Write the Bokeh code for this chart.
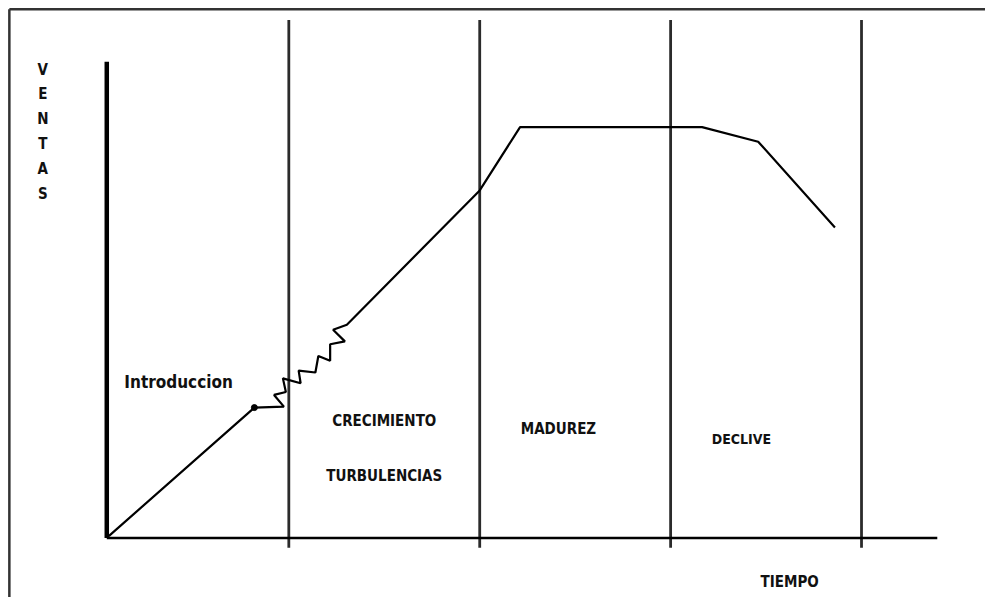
from bokeh.plotting import figure
from bokeh.models import Range1d, ColumnDataSource
from bokeh.core.properties import value
from bokeh.embed import file_html
from bokeh.resources import INLINE

# ---- data (tiempo / ventas in drawing units) ----
tiempo = [2, 150, 180, 170, 182, 179, 197, 195, 212, 215, 227, 227, 242, 230, 244, 379, 420, 605, 662, 740]
ventas = [2, 134, 135, 147, 150, 164, 159, 172, 170, 187, 182, 199, 202, 214, 219, 357, 422, 422, 407, 319]
punto_t = [150]
punto_v = [134]
limites_etapas = [185, 379, 573, 767]
etapas = ["Introduccion", "CRECIMIENTO", "TURBULENCIAS", "MADUREZ", "DECLIVE"]
eje_y = "VENTAS"
eje_x = "TIEMPO"

# ---- layout positions / sizes (drawing units) ----
etapa_x = [73, 282, 282, 459, 645]
etapa_y = [160, 120, 64, 112, 102]
etapa_size = ["17px", "15px", "15px", "15px", "14px"]
eje_y_x = -65
eje_y_top = 481
eje_y_step = 25.5
eje_x_pos = (694, -45)

FONT = value("DejaVu Sans Condensed")

p = figure(width=985, height=597, output_backend="svg", toolbar_location=None,
           x_range=Range1d(-108, 893), y_range=Range1d(-61, 552),
           min_border=0, background_fill_color="white", border_fill_color="white")
p.axis.visible = False
p.grid.visible = False
p.outline_line_color = None

# outer frame (left and top edges only visible in the reference)
p.segment(x0=[-99, -99], y0=[-70, 543], x1=[-99, 900], y1=[543, 543],
          line_color="#333333", line_width=2.5)

# stage dividers
n = len(limites_etapas)
p.segment(x0=limites_etapas, y0=[532] * n, x1=limites_etapas, y1=[-10] * n,
          line_color="#2b2b2b", line_width=2.8)

# axes
p.segment(x0=[0], y0=[0], x1=[0], y1=[489], line_color="black", line_width=4.5)
p.segment(x0=[0], y0=[0], x1=[844], y1=[0], line_color="black", line_width=2.5)

# sales curve
p.line(tiempo, ventas, line_color="black", line_width=2.2)
p.scatter(punto_t, punto_v, size=6, color="black")

# texts
src = ColumnDataSource(dict(x=etapa_x, y=etapa_y, t=etapas, s=etapa_size))
p.text(x="x", y="y", text="t", source=src, text_font=FONT, text_font_style="bold",
       text_font_size="s", text_align="center", text_baseline="middle",
       text_color="#111111")

letras = list(eje_y)
src2 = ColumnDataSource(dict(x=[eje_y_x] * len(letras),
                             y=[eje_y_top - i * eje_y_step for i in range(len(letras))],
                             t=letras))
p.text(x="x", y="y", text="t", source=src2, text_font=FONT, text_font_style="bold",
       text_font_size="15px", text_align="center", text_baseline="middle",
       text_color="#111111")

p.text(x=[eje_x_pos[0]], y=[eje_x_pos[1]], text=[eje_x], text_font=FONT,
       text_font_style="bold", text_font_size="15px", text_align="center",
       text_baseline="middle", text_color="#111111")

open("out.html", "w").write(file_html(p, INLINE))
